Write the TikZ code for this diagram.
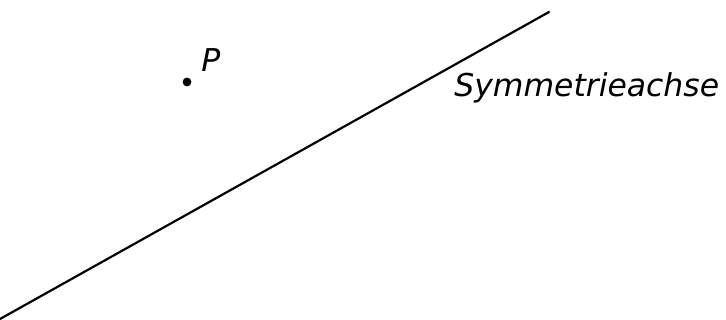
\documentclass[tikz,border=0pt]{standalone}
\usepackage{fontspec}
\setmainfont{DejaVu Sans}
\usetikzlibrary{positioning}

\begin{document}
\begin{tikzpicture}[x=0.02cm,y=-0.02cm,font=\fontsize{17.9}{20}\selectfont\itshape,
    achse/.style={line width=1.25pt,line cap=round},
    lbl/.style={anchor=base west,inner sep=0pt}]
    \useasboundingbox (0,0) rectangle (726,320);
    \coordinate (a) at (0,319);
    \coordinate (b) at (549,12);
    \draw[achse] (a) -- (b);
    \coordinate (p) at (187,82);
    \fill (p) circle (4.4);
    \node[lbl] (pl) at (201,72) {P};
    \node[lbl] (sl) at (454,97) {Symmetrieachse};
  \end{tikzpicture}
\end{document}
